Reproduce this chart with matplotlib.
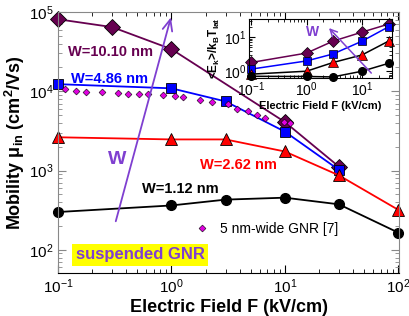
import matplotlib
matplotlib.use("Agg")
import matplotlib.pyplot as plt
from matplotlib.lines import Line2D

plt.rcParams['font.family'] = ['Liberation Sans', 'DejaVu Sans']
plt.rcParams['mathtext.fontset'] = 'custom'
plt.rcParams['mathtext.rm'] = 'Liberation Sans'
plt.rcParams['mathtext.it'] = 'Liberation Sans:italic'
plt.rcParams['mathtext.bf'] = 'Liberation Sans:bold'

# main panel data: mobility vs field
F_w1010 = [0.1, 0.3, 1, 10, 30]
mu_w1010 = [81000, 64500, 34000, 4100, 1120]
F_w486 = [0.1, 1, 3, 10, 30]
mu_w486 = [12300, 10900, 7450, 3100, 1020]
F_w262 = [0.1, 1, 3, 10, 30, 100]
mu_w262 = [2630, 2470, 2470, 1740, 870, 320]
F_w112 = [0.1, 1, 3, 10, 30, 100]
mu_w112 = [300, 363, 430, 455, 375, 165]

# 5 nm-wide GNR [7]
F_ref = [0.115, 0.144, 0.177, 0.245, 0.34, 0.41, 0.52, 0.62, 0.85, 1.07,
         1.26, 1.78, 2.27, 3.15, 3.8, 4.7, 5.7, 6.7, 9.9, 11.0]
mu_ref = [10600, 10000, 9750, 9750, 9500, 9250, 9250, 9250, 9000, 8800,
          8400, 7700, 7300, 6850, 5900, 5600, 5000, 4550, 4050, 4000]

# inset data: <E_k>/k_B T_lat
F_in = [0.1, 1, 3, 10, 30]
ek_w1010 = [1.8, 3.4, 7.6, 14, 24]
ek_w486 = [1.15, 2.0, 3.2, 7.6, 20]
ek_w262 = [0.82, 1.0, 1.8, 3.0, 7.6]
ek_w112 = [0.71, 0.70, 0.68, 1.0, 1.7]

maroon = '#660050'
purple = '#7F3FD0'

fig = plt.figure(figsize=(4.09, 3.16), dpi=100)
ax = fig.add_axes([0.142, 0.136, 0.834, 0.826])

ax.plot(F_w1010, mu_w1010, '-D', color=maroon, mfc=maroon, mec='black', mew=0.6, ms=8, lw=1.3, clip_on=False)
ax.plot(F_w486, mu_w486, '-s', color='blue', mfc='blue', mec='black', mew=0.6, ms=7, lw=1.3, clip_on=False)
ax.plot(F_w262, mu_w262, '-^', color='red', mfc='red', mec='black', mew=0.6, ms=8, lw=1.3, clip_on=False)
ax.plot(F_w112, mu_w112, '-o', color='black', mfc='black', mec='black', ms=7, lw=1.3, clip_on=False)
ax.plot(F_ref, mu_ref, 'D', color='#E000E0', mec='black', mew=0.4, ms=3.5, ls='none')

ax.set_xscale('log')
ax.set_yscale('log')
ax.set_xlim(0.1, 102)
ax.set_ylim(51, 1e5)
ax.tick_params(which='both', direction='in', top=True, right=True, labelsize=11)
ax.tick_params(which='major', length=6)
ax.tick_params(which='minor', length=3)
for s in ['left', 'right', 'top']:
    ax.spines[s].set_color('#888888')
ax.tick_params(axis='y', which='both', colors='#888888', labelcolor='black')

ax.set_xlabel('Electric Field F (kV/cm)', fontsize=13, fontweight='bold', labelpad=2)
ax.set_ylabel(r'Mobility $\mathbf{\mu_{in}}$ (cm$^\mathbf{2}$/Vs)', fontsize=13,
              fontweight='bold', labelpad=1)

ax.text(0.155, 0.845, 'W=10.10 nm', transform=ax.transAxes, color=maroon,
        fontsize=10.5, fontweight='bold', ha='center', va='center')
ax.text(0.152, 0.742, 'W=4.86 nm', transform=ax.transAxes, color='blue',
        fontsize=10.5, fontweight='bold', ha='center', va='center')
ax.text(0.53, 0.415, 'W=2.62 nm', transform=ax.transAxes, color='red',
        fontsize=10.5, fontweight='bold', ha='center', va='center')
ax.text(0.358, 0.322, 'W=1.12 nm', transform=ax.transAxes, color='black',
        fontsize=10.5, fontweight='bold', ha='center', va='center')
ax.text(0.172, 0.435, 'W', transform=ax.transAxes, color=purple,
        fontsize=14, fontweight='bold', ha='center', va='center')
ax.text(0.24, 0.07, 'suspended GNR', transform=ax.transAxes, color=purple,
        fontsize=12, fontweight='bold', ha='center', va='center',
        bbox=dict(boxstyle='square,pad=0.2', fc='yellow', ec='none'))
ax.annotate('', xy=(0.333, 0.99), xytext=(0.167, 0.188), xycoords='axes fraction',
            arrowprops=dict(arrowstyle='->,head_length=0.8,head_width=0.35',
                            color=purple, lw=1.3))

h = Line2D([], [], marker='D', color='#E000E0', mec='black', mew=0.4, ms=3.5, ls='none')
ax.legend([h], ['5 nm-wide GNR [7]'], loc='center left', bbox_to_anchor=(0.365, 0.17),
          frameon=False, fontsize=10, handlelength=1.0, handletextpad=0.8)

# inset
ins = fig.add_axes([0.609, 0.753, 0.350, 0.187])
ins.plot(F_in, ek_w1010, '-D', color=maroon, mfc=maroon, mec='black', mew=0.5, ms=6, lw=1.1, clip_on=False)
ins.plot(F_in, ek_w486, '-s', color='blue', mfc='blue', mec='black', mew=0.5, ms=5.5, lw=1.1, clip_on=False)
ins.plot(F_in, ek_w262, '-^', color='black', mfc='red', mec='black', mew=0.5, ms=6.5, lw=1.1, clip_on=False)
ins.plot(F_in, ek_w112, '-o', color='black', mfc='black', mec='black', ms=5.5, lw=1.1, clip_on=False)
ins.set_xscale('log')
ins.set_yscale('log')
ins.set_xlim(0.092, 35)
ins.set_ylim(0.63, 34)
ins.tick_params(which='both', direction='in', top=True, right=True, labelsize=10, pad=2)
ins.tick_params(which='major', length=4)
ins.tick_params(which='minor', length=2)
ins.set_xlabel('Electric Field F (kV/cm)', fontsize=8, fontweight='bold', labelpad=1)
ins.set_ylabel(r'<E$_\mathbf{k}$>/k$_\mathbf{B}$T$_\mathbf{lat}$', fontsize=8.5,
               fontweight='bold', labelpad=1)
ins.text(0.44, 0.78, 'W', transform=ins.transAxes, color=purple,
         fontsize=10, fontweight='bold', ha='center', va='center')
ins.annotate('', xy=(0.545, 0.88), xytext=(0.867, 0.05), xycoords='axes fraction',
             arrowprops=dict(arrowstyle='->,head_length=0.5,head_width=0.25',
                             color=purple, lw=1.1))

fig.savefig('out.png', dpi=100)
